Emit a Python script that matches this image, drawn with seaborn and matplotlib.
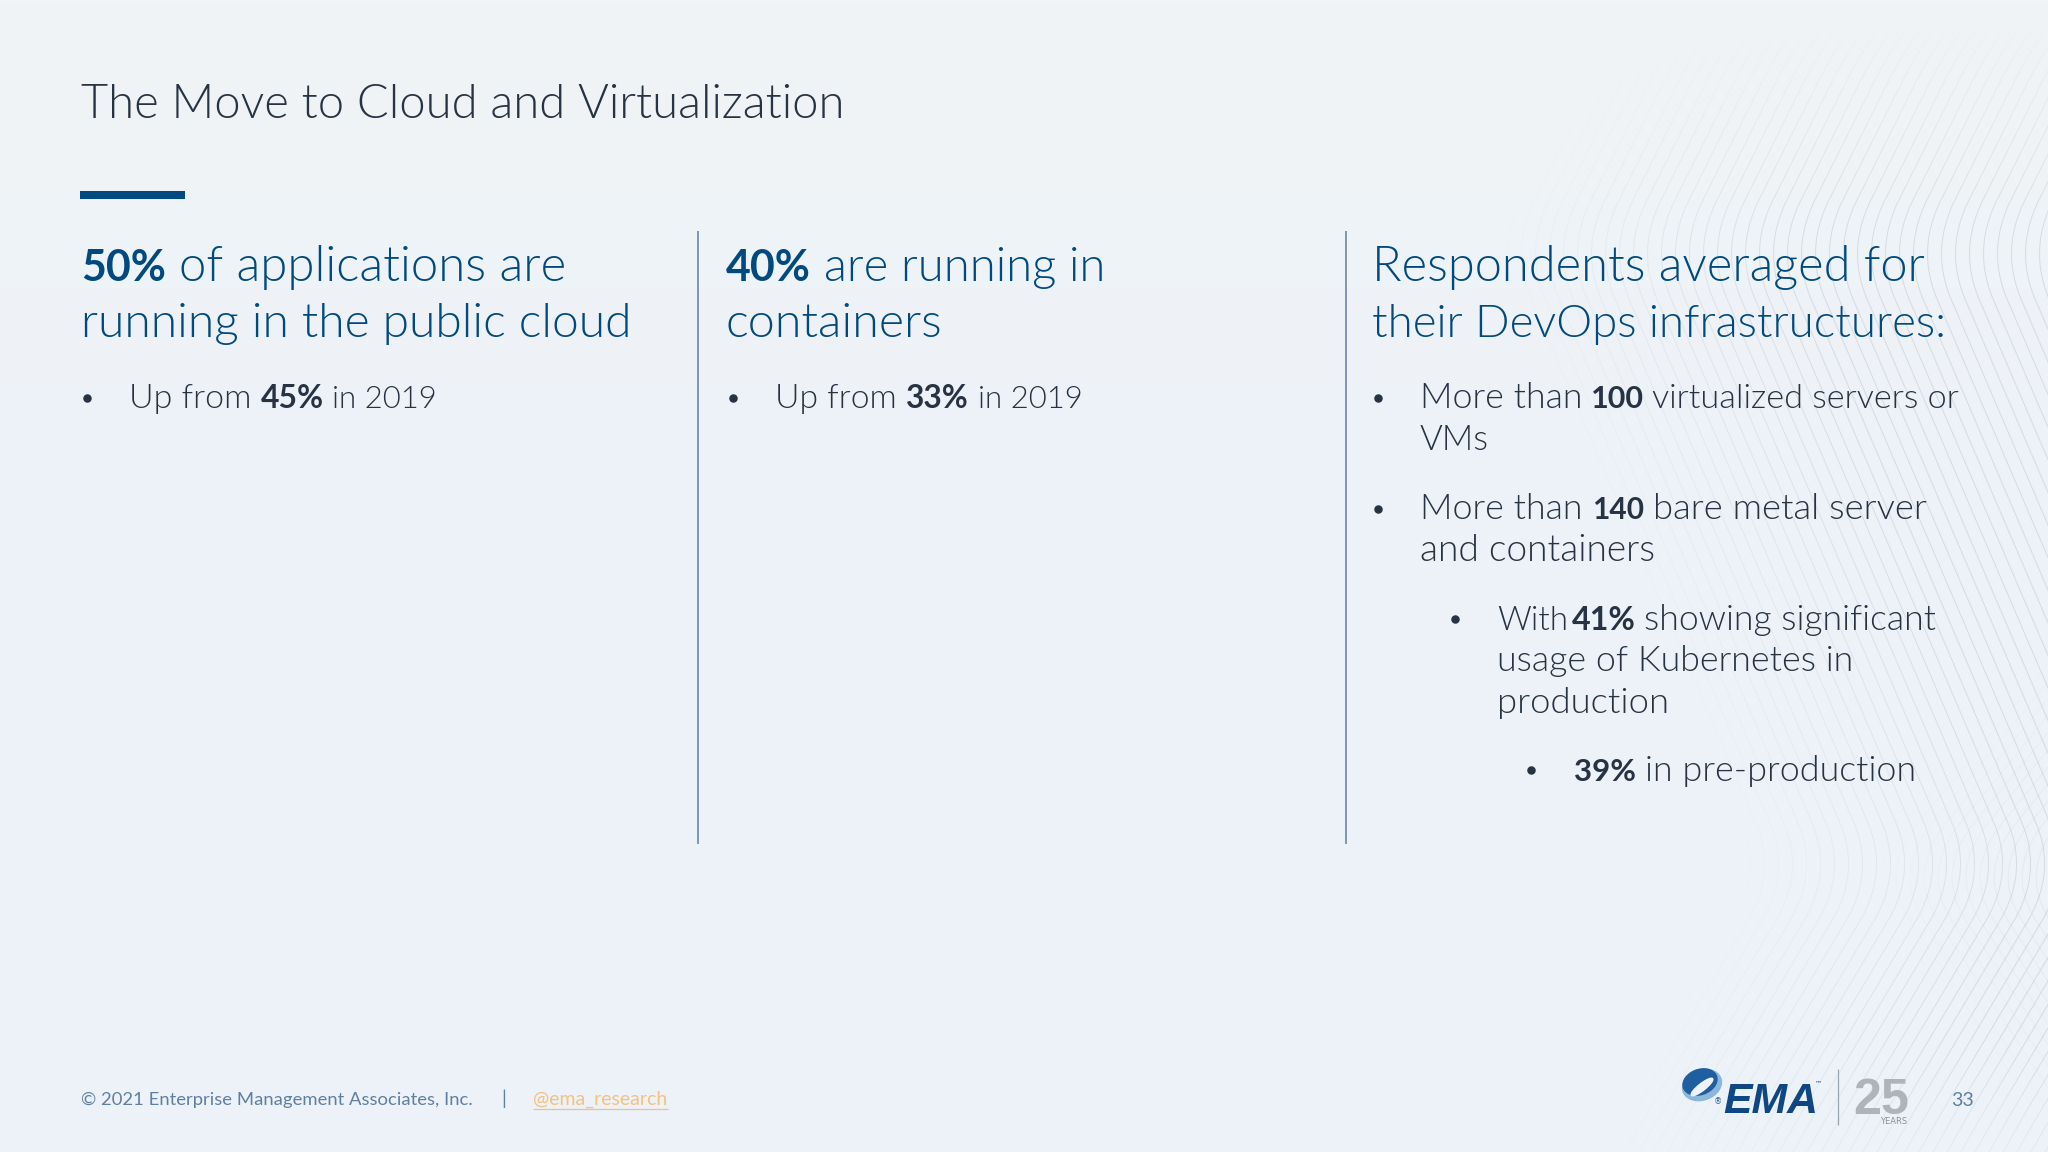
import numpy as np
import matplotlib
matplotlib.use("Agg")
import matplotlib.pyplot as plt
from matplotlib.collections import LineCollection
from matplotlib.colors import LinearSegmentedColormap
from matplotlib.patches import Ellipse
import seaborn as sns

FONT = "Lato"
NAVY = "#004a7f"
INK = "#273343"
FOOT = "#5f7fa3"
LINK = "#f3c27c"

title = "The Move to Cloud and Virtualization"

# text of every line, as (text, bold) runs
heading_text = [
    [("50%", True), ("of applications are", False)],
    [("running in the public cloud", False)],
    [("40%", True), ("are running in", False)],
    [("containers", False)],
    [("Respondents averaged for", False)],
    [("their DevOps infrastructures:", False)],
]
body_text = [
    [("Up from", False), ("45%", True), ("in 2019", False)],
    [("Up from", False), ("33%", True), ("in 2019", False)],
    [("More than", False), ("100", True), ("virtualized servers or", False)],
    [("VMs", False)],
    [("More than", False), ("140", True), ("bare metal server", False)],
    [("and containers", False)],
    [("With", False), ("41%", True), ("showing significant", False)],
    [("usage of Kubernetes in", False)],
    [("production", False)],
    [("39%", True), ("in pre-production", False)],
]
footer_text = "© 2021 Enterprise Management Associates, Inc."
footer_handle = "@ema_research"
page_number = "33"

# where those lines go in pixels: baseline, then left/right of every run
heading_layout = [
    (281, [(81, 166), (179, 567)]),
    (337, [(81, 633)]),
    (281, [(726, 811), (824, 1105)]),
    (337, [(726, 943)]),
    (281, [(1372, 1925)]),
    (337, [(1372, 1947)]),
]
body_layout = [
    (408, [(129, 252), (261, 324), (332, 437)]),
    (408, [(775, 897), (906, 969), (978, 1083)]),
    (408, [(1420, 1582), (1591, 1644), (1652, 1960)]),
    (450, [(1420, 1489)]),
    (519, [(1420, 1582), (1592, 1644), (1653, 1926)]),
    (561, [(1420, 1655)]),
    (630, [(1497, 1568), (1572, 1636), (1644, 1937)]),
    (671, [(1497, 1852)]),
    (713, [(1497, 1669)]),
    (781, [(1574, 1636), (1645, 1916)]),
]
bullet_x = [87, 733, 1378, 1378, 1455, 1531]
bullet_y = [398, 398, 398, 509, 619, 770]
divider_x = [698, 1346]


def fit_text(ax, x0, x1, y, text, size, **kw):
    # write the text, then scale the font so it spans x0..x1
    t = ax.text(x0, y, text, fontsize=size, va="baseline", ha="left", **kw)
    width = t.get_window_extent(ax.figure.canvas.get_renderer()).width
    t.set_fontsize(size * (x1 - x0) / width)
    return t


def draw_lines(ax, texts, layout, size, color):
    for runs, (y, spans) in zip(texts, layout):
        for (text, bold), (x0, x1) in zip(runs, spans):
            fit_text(ax, x0, x1, y, text, size, color=color, family=FONT,
                     fontweight="bold" if bold else 300)


def wave_family(ax, starts, anchor_y, anchor_dx, strength):
    # wavy background lines, fading out towards low starts and the slide edge
    y = np.arange(-200, 1352, 4.0)
    dx = np.interp(y, anchor_y, anchor_dx)
    dx = np.convolve(dx, np.ones(25) / 25, mode="same")
    keep = (y > -10) & (y < 1160)
    y, dx = y[keep], dx[keep]
    envelope = np.interp(y, [20, 230, 1040, 1152], [0, 1, 1, 0.35])
    for c in starts:
        fade = strength * min(1, (c - starts[0] + 14) / 300)
        pts = np.column_stack([c + dx, y])
        segs = np.stack([pts[:-1], pts[1:]], axis=1)
        colors = np.tile(matplotlib.colors.to_rgba("#bfc8d0"), (len(segs), 1))
        colors[:, 3] = fade * envelope[:-1]
        ax.add_collection(LineCollection(segs, colors=colors, linewidths=0.7, zorder=1))


def draw_logo(ax):
    ax.add_patch(Ellipse((1702, 1085), 40, 30, angle=-20, color="#8db6dc", zorder=3))
    ax.add_patch(Ellipse((1700, 1082), 35, 25, angle=-20, color="#1f5f9f", zorder=4))
    ax.add_patch(Ellipse((1702, 1087), 27, 7, angle=-38, color="#eef3f9", zorder=5))
    ax.text(1718, 1104, "®", fontsize=6, family="DejaVu Sans", color="#1f5f9f", ha="center", zorder=6)
    fit_text(ax, 1723, 1818, 1113, "EMA", 32, family="Liberation Sans", style="italic",
             fontweight="bold", color="#0f4782", zorder=6)
    ax.text(1815, 1085, "™", fontsize=5, color="#0f4782", family="DejaVu Sans", va="baseline")
    ax.vlines(1838, 1069, 1125, color="#9aa6b2", lw=0.9)
    fit_text(ax, 1853, 1909, 1114, "25", 41, family=["Liberation Sans Narrow", "Liberation Sans"],
             fontweight="bold", color="#b0b3b7")
    ax.text(1880, 1124, "YEARS", fontsize=6, family="Liberation Sans Narrow", color="#8c9196", va="baseline")


sns.set_theme(style="white", rc={"figure.facecolor": "#eef3f9", "axes.facecolor": "#eef3f9"})

fig, ax = plt.subplots(figsize=(20.48, 11.52), dpi=100)
fig.subplots_adjust(left=0, right=1, top=1, bottom=0)
fig.canvas.draw()

# soft vertical tint of the slide
tint = LinearSegmentedColormap.from_list("tint", ["#f0f4f6", "#edf2f9", "#edf2f9"])
ax.imshow(np.linspace(0, 1, 200)[:, None], cmap=tint, aspect="auto", extent=(0, 2048, 1152, 0), zorder=0)

wave_family(ax, np.arange(1496, 2120, 14), [-200, 30, 250, 872, 1152, 1352],
            [330, 110, 0, 267, 100, 0], 0.55)
wave_family(ax, np.arange(1864, 2180, 14), [300, 640, 872, 1100, 1352],
            [420, 190, 0, 150, 310], 0.4)

ax.set_xlim(0, 2048)
ax.set_ylim(1152, 0)
ax.set_xticks([])
ax.set_yticks([])
sns.despine(ax=ax, left=True, bottom=True)

fit_text(ax, 81, 846, 118, title, 33, color=INK, family=FONT, fontweight=300)
ax.hlines(195, 80, 185, color=NAVY, lw=5.8)
ax.vlines(divider_x, 231, 844, color="#5d7f9f", lw=1.1)

draw_lines(ax, heading_text, heading_layout, 34, NAVY)
draw_lines(ax, body_text, body_layout, 25, INK)

ax.scatter(bullet_x, bullet_y, s=26, color=INK, zorder=3)

fit_text(ax, 81, 472, 1105, footer_text, 14, color=FOOT, family=FONT)
ax.text(501, 1105, "|", fontsize=14, color=FOOT, family=FONT, va="baseline")
fit_text(ax, 533, 668, 1105, footer_handle, 14, color=LINK, family=FONT)
ax.hlines(1109, 533, 668, color=LINK, lw=0.9)
ax.text(1951, 1106, page_number, fontsize=14, color=FOOT, family=FONT, va="baseline")

draw_logo(ax)

fig.savefig("out.png", dpi=100)
